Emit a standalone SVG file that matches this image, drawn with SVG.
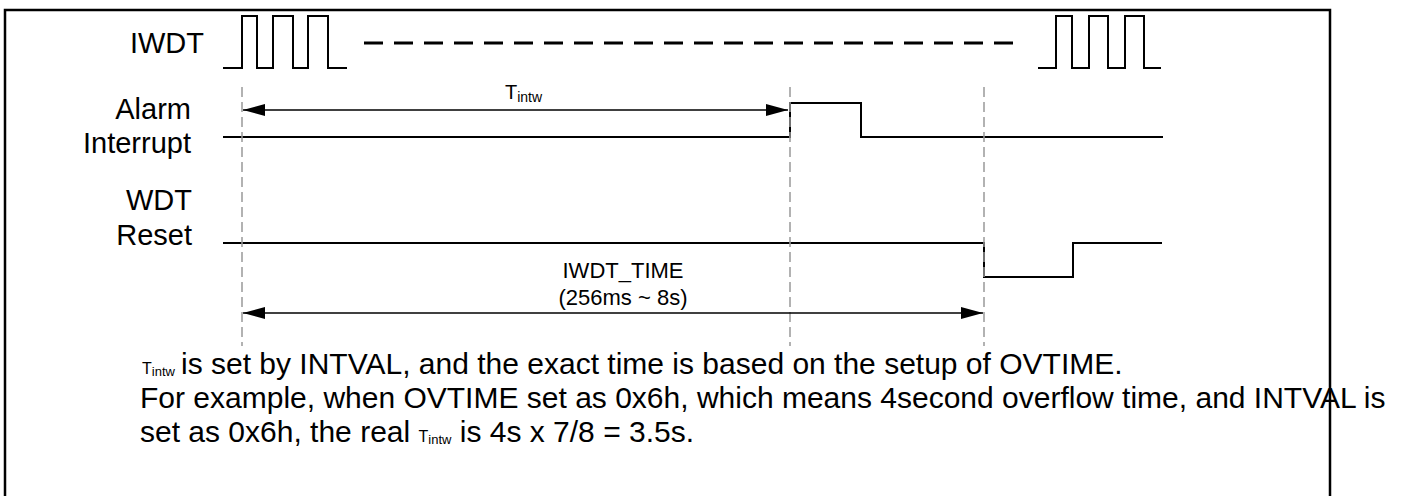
<svg xmlns="http://www.w3.org/2000/svg" width="1403" height="496" viewBox="0 0 1403 496">
  <style>
    .lbl { font-family: "Liberation Sans", Arial, sans-serif; font-size: 29px; fill: #000; text-anchor: end; }
    .txt { font-family: "Liberation Sans", Arial, sans-serif; font-size: 30px; fill: #000; }
    .mid { font-family: "Liberation Sans", Arial, sans-serif; font-size: 22px; fill: #000; text-anchor: middle; }
    .wave { fill: none; stroke: #000; stroke-width: 2; }
    .guide { fill: none; stroke: #999; stroke-width: 1.5; stroke-dasharray: 10 5; }
    .dim { fill: none; stroke: #000; stroke-width: 1.5; marker-start: url(#ah); marker-end: url(#ah); }
  </style>
  <defs>
    <marker id="ah" markerUnits="userSpaceOnUse" markerWidth="22" markerHeight="12" refX="22" refY="6" orient="auto-start-reverse" viewBox="0 0 22 12">
      <path d="M0,0 L22,6 L0,12 z" fill="#000"/>
    </marker>
  </defs>
  <rect width="1403" height="496" fill="#fff"/>
  <path d="M5,497 V10 H1330 V497" fill="none" stroke="#000" stroke-width="2.5"/>

  <g id="iwdt">
    <text class="lbl" x="204" y="53">IWDT</text>
    <path class="wave" d="M223,68 H242 V16 H257 V68 H273 V16 H293 V68 H308 V16 H328 V68 H347"/>
    <line x1="364" y1="43" x2="1013" y2="43" stroke="#000" stroke-width="3" stroke-dasharray="19 11"/>
    <path class="wave" d="M1038,68 H1056 V16 H1072 V68 H1089 V16 H1108 V68 H1125 V16 H1144 V68 H1161"/>
  </g>

  <g id="alarm">
    <text class="lbl" x="191" y="119">Alarm</text>
    <text class="lbl" x="191" y="153">Interrupt</text>
    <path class="wave" d="M223,137 H790 V103 H861 V137 H1163"/>
  </g>

  <g id="reset">
    <text class="lbl" x="192" y="210">WDT</text>
    <text class="lbl" x="192" y="245">Reset</text>
    <path class="wave" d="M223,243 H984 V277 H1073 V243 H1162"/>
  </g>

  <g id="connectors">
    <line class="guide" x1="242" y1="87" x2="242" y2="346"/>
    <line class="guide" x1="790" y1="87" x2="790" y2="346"/>
    <line class="guide" x1="984" y1="87" x2="984" y2="346"/>
    <line class="dim" x1="243" y1="110" x2="788" y2="110"/>
    <line class="dim" x1="243" y1="313" x2="983" y2="313"/>
  </g>

  <g id="tintw-label">
    <text font-family="Liberation Sans, Arial, sans-serif" font-size="20" x="505" y="99">T<tspan font-size="14" dy="3">intw</tspan></text>
  </g>

  <g id="iwdt-time-label">
    <text class="mid" x="623" y="278">IWDT_TIME</text>
    <text class="mid" x="623" y="305">(256ms ~ 8s)</text>
  </g>

  <g id="note">
    <text class="txt" x="142" y="374"><tspan font-size="16">T</tspan><tspan font-size="13" dy="2">intw</tspan><tspan dy="-2" x="181">is set by INTVAL, and the exact time is based on the setup of OVTIME.</tspan></text>
    <text class="txt" x="140" y="408">For example, when OVTIME set as 0x6h, which means 4second overflow time, and INTVAL is</text>
    <text class="txt" x="140" y="442">set as 0x6h, the real <tspan font-size="16">T</tspan><tspan font-size="13" dy="2">intw</tspan><tspan dy="-2"> is 4s x 7/8 = 3.5s.</tspan></text>
  </g>
</svg>
